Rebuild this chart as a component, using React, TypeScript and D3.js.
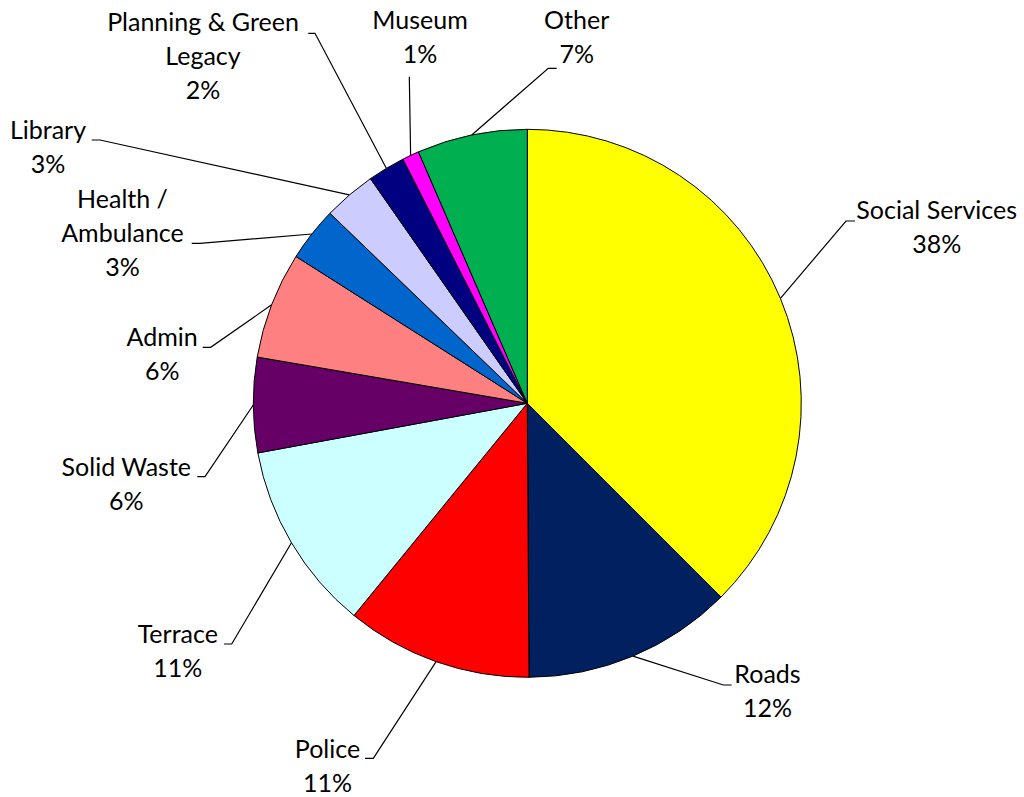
import React from "react";
import * as d3 from "d3";

// ---- data ----
const categories = [
  "Social Services",
  "Roads",
  "Police",
  "Terrace",
  "Solid Waste",
  "Admin",
  "Health / Ambulance",
  "Library",
  "Planning & Green Legacy",
  "Museum",
  "Other",
];
const values = [37.5, 12.4, 11.0, 11.2, 5.6, 6.3, 3.2, 3.1, 2.2, 1.0, 6.5];
// label line breaks (as the reference wraps them)
const labelLines = [
  ["Social Services"],
  ["Roads"],
  ["Police"],
  ["Terrace"],
  ["Solid Waste"],
  ["Admin"],
  ["Health /", "Ambulance"],
  ["Library"],
  ["Planning & Green", "Legacy"],
  ["Museum"],
  ["Other"],
];

// ---- styles / layout ----
const colors = [
  "#FFFF00",
  "#002060",
  "#FF0000",
  "#CCFFFF",
  "#660066",
  "#FF8080",
  "#0066CC",
  "#CCCCFF",
  "#000080",
  "#FF00FF",
  "#00B050",
];
// label placement: text centre x, first baseline y, elbow (x at text side, x at leader side, y)
const labelLayout = [
  { cx: 936.7, by: 219, ex1: 855, ex2: 846, ey: 221 },
  { cx: 767.5, by: 683.3, ex1: 731.7, ex2: 723.3, ey: 685 },
  { cx: 327.5, by: 758.3, ex1: 365, ex2: 373.3, ey: 758.3 },
  { cx: 177.8, by: 642.7, ex1: 224, ex2: 231.7, ey: 644 },
  { cx: 126.3, by: 476, ex1: 197.3, ex2: 205, ey: 476.7 },
  { cx: 162.2, by: 346, ex1: 202.7, ex2: 210.7, ey: 347.3 },
  { cx: 122.5, by: 208.3, ex1: 191.7, ex2: 200, ey: 243.3 },
  { cx: 48, by: 139.3, ex1: 91.7, ex2: 100, ey: 140 },
  { cx: 203, by: 30.5, ex1: 308.3, ex2: 315, ey: 33.3 },
  { cx: 420, by: 29.3, ex1: 409.3, ex2: 409.3, ey: 76.7 },
  { cx: 576.7, by: 29.3, ex1: 556.7, ex2: 548.3, ey: 68.3 },
];

const W = 1024;
const H = 797;
const CX = 527.3;
const CY = 403.3;
const R = 274;
const LINE_H = 34;
const FONT = "Lato, 'Open Sans', sans-serif";
const FONT_SIZE = 25;

export default function App() {
  const total = d3.sum(values);
  const pie = d3
    .pie<number>()
    .sort(null)
    .value((d) => d)
    .startAngle(0)
    .endAngle(2 * Math.PI);
  const arcs = pie(values);
  const arcGen = d3.arc<d3.PieArcDatum<number>>().innerRadius(0).outerRadius(R);

  return (
    <svg
      width={W}
      height={H}
      style={{ position: "absolute", left: 0, top: 0, display: "block", background: "#fff" }}
    >
      <g transform={`translate(${CX},${CY})`}>
        {arcs.map((a, i) => (
          <path
            key={categories[i]}
            d={arcGen(a) || ""}
            fill={colors[i]}
            stroke="#000"
            strokeWidth={1}
            strokeLinejoin="round"
          />
        ))}
      </g>
      {arcs.map((a, i) => {
        const mid = (a.startAngle + a.endAngle) / 2;
        const px = CX + R * Math.sin(mid);
        const py = CY - R * Math.cos(mid);
        const L = labelLayout[i];
        const pts: [number, number][] = [
          [L.ex1, L.ey],
          [L.ex2, L.ey],
          [px, py],
        ];
        const line = d3.line()(pts) || "";
        const pct = Math.round((values[i] * 100) / total + 1e-9) + "%";
        const lines = [...labelLines[i], pct];
        return (
          <g key={"lbl" + i}>
            <path d={line} fill="none" stroke="#000" strokeWidth={1.2} />
            <text
              x={L.cx}
              y={L.by}
              textAnchor="middle"
              fontFamily={FONT}
              fontSize={FONT_SIZE}
              fill="#000"
            >
              {lines.map((t, j) => (
                <tspan key={j} x={L.cx} y={L.by + j * LINE_H}>
                  {t}
                </tspan>
              ))}
            </text>
          </g>
        );
      })}
    </svg>
  );
}
